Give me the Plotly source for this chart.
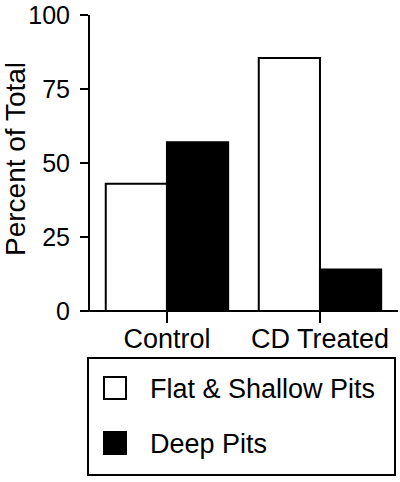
import plotly.graph_objects as go

categories = ["Control", "CD Treated"]
flat_shallow = [43, 85.5]
deep = [57, 14]
series_names = ["Flat & Shallow Pits", "Deep Pits"]
y_ticks = [0, 25, 50, 75, 100]

FONT = "Liberation Sans, Arial, Helvetica, sans-serif"
W, H = 400, 482
ML, MR, MT, MB = 90, 2, 15, 171
PW, PH = W - ML - MR, H - MT - MB


def px(x):
    return (x - ML) / PW


def py(y):
    return (H - MB - y) / PH


fig = go.Figure()
fig.add_trace(go.Bar(x=categories, y=flat_shallow, name=series_names[0],
                     marker=dict(color="white", line=dict(color="black", width=2)),
                     showlegend=False))
fig.add_trace(go.Bar(x=categories, y=deep, name=series_names[1],
                     marker=dict(color="black", line=dict(color="black", width=2)),
                     showlegend=False))

shapes = [
    dict(type="line", xref="paper", yref="paper", x0=px(82), x1=px(398), y0=0, y1=0,
         line=dict(color="black", width=2)),
    dict(type="rect", xref="paper", yref="paper", x0=px(88), x1=px(395), y0=py(358), y1=py(475),
         line=dict(color="black", width=2), fillcolor="rgba(0,0,0,0)"),
    dict(type="rect", xref="paper", yref="paper", x0=px(104), x1=px(126), y0=py(377), y1=py(399),
         line=dict(color="black", width=2), fillcolor="white"),
    dict(type="rect", xref="paper", yref="paper", x0=px(104), x1=px(126), y0=py(432), y1=py(454),
         line=dict(color="black", width=2), fillcolor="black"),
]

annotations = [
    dict(text="Percent of Total", xref="paper", yref="paper", x=px(15), y=py(159),
         textangle=-90, showarrow=False, xanchor="center", yanchor="middle",
         font=dict(family=FONT, size=28, color="black")),
    dict(text=series_names[0], xref="paper", yref="paper", x=px(148), y=py(389),
         showarrow=False, xanchor="left", yanchor="middle",
         font=dict(family=FONT, size=27, color="black")),
    dict(text=series_names[1], xref="paper", yref="paper", x=px(148), y=py(444),
         showarrow=False, xanchor="left", yanchor="middle",
         font=dict(family=FONT, size=27, color="black")),
]

fig.update_layout(
    width=W, height=H,
    margin=dict(l=ML, r=MR, t=MT, b=MB, pad=0),
    paper_bgcolor="white", plot_bgcolor="white",
    barmode="group", bargap=0.2, bargroupgap=0,
    font=dict(family=FONT, size=25, color="black"),
    shapes=shapes, annotations=annotations,
    xaxis=dict(type="category", range=[-0.503, 1.51], showline=False, showgrid=False,
               zeroline=False, ticks="outside", ticklen=11, tickwidth=2, tickcolor="black",
               ticklabelstandoff=-7,
               tickfont=dict(family=FONT, size=27, color="black"), automargin=False),
    yaxis=dict(range=[0, 100], tickvals=y_ticks, showline=True, linewidth=2, linecolor="black",
               showgrid=False, zeroline=False, ticks="outside", ticklen=8, tickwidth=2,
               tickcolor="black", ticklabelstandoff=5,
               tickfont=dict(family=FONT, size=25, color="black"),
               automargin=False),
)

fig.write_html("out.html", config={"displayModeBar": False},
               post_script="document.body.style.margin='0px';document.body.style.overflow='hidden';")
